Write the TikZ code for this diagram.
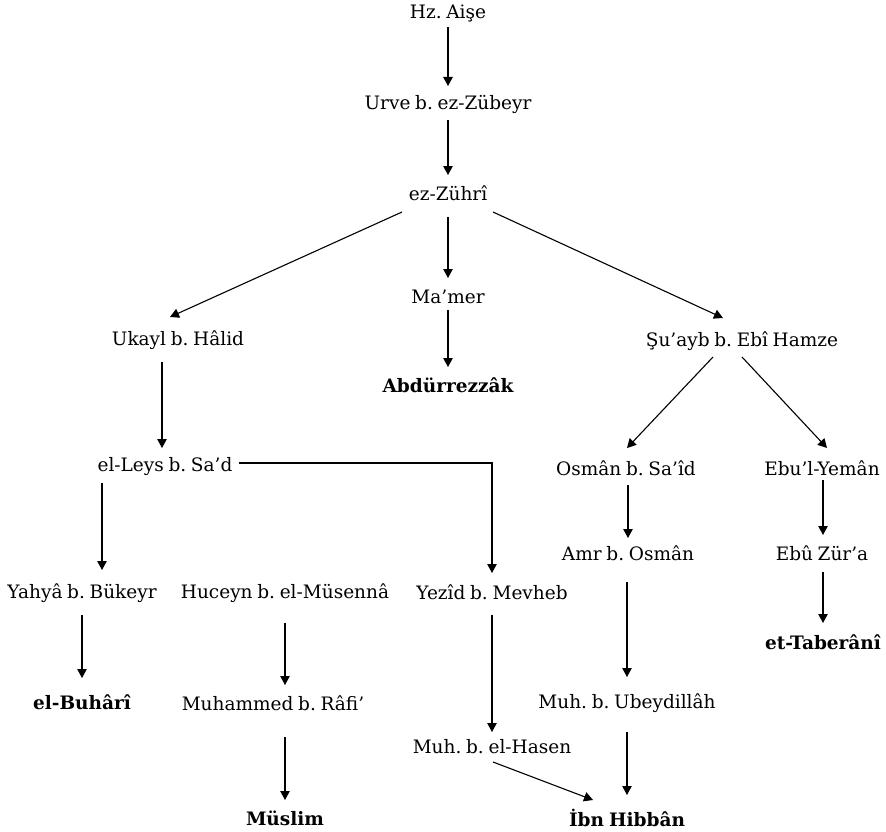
\documentclass[tikz,border=0pt]{standalone}
\usepackage{fontspec}
\setmainfont{DejaVu Serif}[WordSpace=0.8]
\usetikzlibrary{arrows.meta,calc}
\begin{document}
\begin{tikzpicture}[x=1pt,y=-1pt,
  nm/.style={inner sep=0pt,font=\fontsize{18.5}{21}\selectfont\frenchspacing},
  bnm/.style={inner sep=0pt,font=\fontsize{18.5}{21}\selectfont\bfseries\frenchspacing},
  arr/.style={draw=black,line width=1.1pt,-{Triangle[width=9.5pt,length=9pt]}}]
\useasboundingbox (0,0) rectangle (886,832);
\node[nm] (A) at (448,13) {Hz. Aişe};
\node[nm] (U) at (448,104) {Urve b. ez-Zübeyr};
\node[nm] (Z) at (448,193) {ez-Zührî};
\node[nm] (Ma) at (448,297) {Ma’mer};
\node[bnm] (Ab) at (448,385) {Abdürrezzâk};
\node[nm] (Uk) at (178,340) {Ukayl b. Hâlid};
\node[nm] (Su) at (742,341) {Şu’ayb b. Ebî Hamze};
\node[nm] (Le) at (165,467) {el-Leys b. Sa’d};
\node[nm] (Os) at (626,468) {Osmân b. Sa’îd};
\node[nm] (Ey) at (822,468) {Ebu’l-Yemân};
\node[nm] (Am) at (628,553) {Amr b. Osmân};
\node[nm] (EZ) at (822,553) {Ebû Zür’a};
\node[nm] (Ya) at (82,593) {Yahyâ b. Bükeyr};
\node[nm] (Hu) at (285,593) {Huceyn b. el-Müsennâ};
\node[nm] (Ye) at (492,592) {Yezîd b. Mevheb};
\node[bnm] (Ta) at (823,642) {et-Taberânî};
\node[bnm] (Bu) at (82,702) {el-Buhârî};
\node[nm] (Mr) at (273,703) {Muhammed b. Râfi’};
\node[nm] (MU) at (627,703) {Muh. b. Ubeydillâh};
\node[nm] (MH) at (492,747) {Muh. b. el-Hasen};
\node[bnm] (Mu) at (285,818) {Müslim};
\node[bnm] (IH) at (627,818) {İbn Hibbân};
% connectors
\draw[arr] ($(A)+(0,14)$) -- ($(U)+(0,-18)$);
\draw[arr] ($(U)+(0,16)$) -- ($(Z)+(0,-18)$);
\draw[arr] ($(Z)+(0,24)$) -- ($(Ma)+(0,-19)$);
\draw[arr] ($(Z)+(-46,19)$) -- ($(Uk)+(-8,-23)$);
\draw[arr] ($(Z)+(45,19)$) -- ($(Su)+(-19,-23)$);
\draw[arr] ($(Ma)+(0,13)$) -- ($(Ab)+(0,-18)$);
\draw[arr] ($(Uk)+(-16,22)$) -- ($(Le)+(-3,-19)$);
\draw[arr] ($(Su)+(-29,16)$) -- ($(Os)+(1,-20)$);
\draw[arr] ($(Su)+(0,16)$) -- ($(Ey)+(5,-20)$);
\draw[arr] ($(Le)+(74,-4)$) -| ($(Ye)+(0,-19)$);
\draw[arr] ($(Le)+(-63,16)$) -- ($(Ya)+(20,-23)$);
\draw[arr] ($(Os)+(2,17)$) -- ($(Am)+(0,-15)$);
\draw[arr] ($(Ey)+(1,12)$) -- ($(EZ)+(1,-18)$);
\draw[arr] ($(Ya)+(0,22)$) -- ($(Bu)+(0,-24)$);
\draw[arr] ($(Hu)+(0,30)$) -- ($(Mr)+(12,-18)$);
\draw[arr] ($(Am)+(-1,29)$) -- ($(MU)+(0,-26)$);
\draw[arr] ($(EZ)+(1,19)$) -- ($(Ta)+(0,-19)$);
\draw[arr] ($(Ye)+(0,23)$) -- ($(MH)+(0,-15)$);
\draw[arr] ($(Mr)+(12,34)$) -- ($(Mu)+(0,-18)$);
\draw[arr] ($(MU)+(0,29)$) -- ($(IH)+(0,-23)$);
\draw[arr] ($(MH)+(1,15)$) -- ($(IH)+(-34,-18)$);
\end{tikzpicture}
\end{document}
